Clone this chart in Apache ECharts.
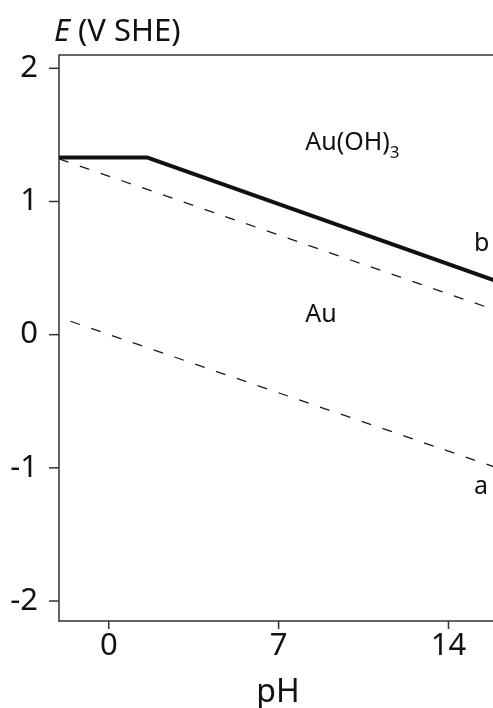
<!DOCTYPE html>
<html>
<head>
<meta charset="utf-8">
<script src="https://cdn.jsdelivr.net/npm/echarts@6/dist/echarts.min.js"></script>
<style>
  html, body { margin: 0; padding: 0; background: #fff; }
  #chart { width: 493px; height: 708px; }
</style>
</head>
<body>
<div id="chart"></div>
<script>
// Pourbaix diagram for gold: E (V vs SHE) against pH
const xTicks = [0, 7, 14];
const yTicks = [-2, -1, 0, 1, 2];
const xRange = [-2.05, 16];
const yRange = [-2.15, 2.1];

// Au(OH)3 / Au boundary (solid)
const boundaryPH = [-2.05, 1.6, 16];
const boundaryE  = [1.33, 1.33, 0.40];

// water stability lines (dashed): b = O2/H2O, a = H2O/H2
const lineBPH = [-2.05, 16];
const lineBE  = [1.32, 0.18];
const lineAPH = [-2.05, 16];
const lineAE  = [0.13, -1.0];

// region and line labels
const labelNames = ['Au(OH)3', 'Au', 'b', 'a'];
const labelPH    = [8.1, 8.1, 15.05, 15.05];
const labelE     = [1.44, 0.15, 0.68, -1.14];

const FONT = '"Noto Sans", "Open Sans", sans-serif';
const INK = '#111';
const AXIS = '#333';
const pairs = (xs, ys) => xs.map((x, i) => [x, ys[i]]);

const chart = echarts.init(document.getElementById('chart'));
chart.setOption({
  animation: false,
  grid: { left: 59, right: -4, top: 55, bottom: 87, outerBoundsMode: 'none', containLabel: false },
  xAxis: {
    type: 'value', min: xRange[0], max: xRange[1],
    name: 'pH', nameLocation: 'middle', nameGap: 56,
    nameTextStyle: { fontFamily: FONT, fontSize: 32, color: INK },
    axisLine: { show: true, onZero: false, lineStyle: { color: AXIS, width: 1.5 } },
    axisTick: { show: false },
    axisLabel: { fontFamily: FONT, fontSize: 31, color: INK, margin: 10,
      customValues: xTicks },
    splitLine: { show: false }
  },
  yAxis: {
    type: 'value', min: yRange[0], max: yRange[1],
    axisLine: { show: true, onZero: false, lineStyle: { color: AXIS, width: 1.5 } },
    axisTick: { show: false },
    axisLabel: { fontFamily: FONT, fontSize: 31, color: INK, margin: 21,
      customValues: yTicks },
    splitLine: { show: false }
  },
  series: [
    {
      type: 'line', data: pairs(boundaryPH, boundaryE), symbol: 'none',
      lineStyle: { color: '#111', width: 4 }, z: 3
    },
    {
      type: 'line', data: pairs(lineBPH, lineBE), symbol: 'none',
      lineStyle: { color: '#1a1a1a', width: 1.3, type: [10, 12] }
    },
    {
      type: 'line', data: pairs(lineAPH, lineAE), symbol: 'none',
      lineStyle: { color: '#1a1a1a', width: 1.3, type: [10, 12], dashOffset: 10 }
    },
    {
      type: 'scatter', symbolSize: 0, silent: true,
      itemStyle: { opacity: 1 },
      data: labelNames.map((n, i) => ({ value: [labelPH[i], labelE[i]], name: n })),
      label: {
        show: true, position: 'inside', align: 'left', verticalAlign: 'middle',
        color: INK, fontFamily: FONT, fontSize: 25, textBorderWidth: 0,
        formatter: p => p.name === 'Au(OH)3' ? 'Au(OH){s|3}' : p.name,
        rich: { s: { fontFamily: FONT, fontSize: 17, color: INK, padding: [20, 0, 0, 0] } }
      }
    }
  ]
});

// Tick marks, placed through the chart's own scales, plus the top frame line
// and the axis title.
const toPx = v => chart.convertToPixel({ gridIndex: 0 }, v);
const tickStyle = { stroke: AXIS, lineWidth: 1.5 };
const graphics = [];
xTicks.forEach(t => {
  const [x, y] = toPx([t, yRange[0]]);
  graphics.push({ type: 'line', shape: { x1: x, y1: y, x2: x, y2: y + 8 }, style: tickStyle });
});
yTicks.forEach(t => {
  const [x, y] = toPx([xRange[0], t]);
  graphics.push({ type: 'line', shape: { x1: x - 10, y1: y, x2: x, y2: y }, style: tickStyle });
});
const [frameL, frameT] = toPx([xRange[0], yRange[1]]);
const [frameR] = toPx([xRange[1], yRange[1]]);
graphics.push({ type: 'line', shape: { x1: frameL, y1: frameT, x2: frameR, y2: frameT }, style: tickStyle });
graphics.push({
  type: 'text', left: 54, top: 17,
  style: {
    text: '{i|E} (V SHE)',
    font: '31px ' + FONT, fill: INK,
    rich: { i: { fontStyle: 'italic', fontFamily: FONT, fontSize: 31, fill: INK } }
  }
});
chart.setOption({ graphic: graphics });
</script>
</body>
</html>
